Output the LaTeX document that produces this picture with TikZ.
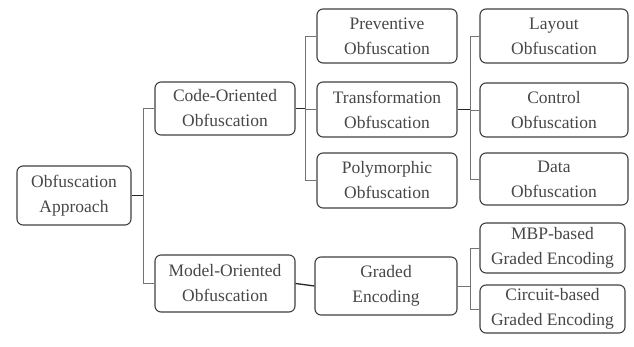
\documentclass[tikz,border=0pt]{standalone}
\usepackage{fontspec}
\setmainfont{Liberation Serif}
\begin{document}
\begin{tikzpicture}[x=1pt,y=-1pt,
  box/.style={draw=black!75, line width=1.1pt, rounded corners=6pt, fill=white,
    align=center, inner sep=0pt, text=black!72,
    font=\fontsize{17.5}{25}\selectfont},
  link/.style={draw=black!55, line width=0.8pt},
  thick link/.style={draw=black!85, line width=1.3pt}]
\useasboundingbox (0,0) rectangle (634,347);
% nodes
\node[box, minimum width=114pt, minimum height=59pt] (root) at (74,195.5) {Obfuscation\\Approach};
\node[box, minimum width=140pt, minimum height=53pt] (code) at (225,108.5) {Code-Oriented\\Obfuscation};
\node[box, minimum width=140pt, minimum height=57pt] (model) at (225,283.5) {Model-Oriented\\Obfuscation};
\node[box, minimum width=140pt, minimum height=54pt] (prev) at (387,36) {Preventive\\Obfuscation};
\node[box, minimum width=140pt, minimum height=55pt] (trans) at (387,109.5) {Transformation\\Obfuscation};
\node[box, minimum width=140pt, minimum height=55pt] (poly) at (387,180.5) {Polymorphic\\Obfuscation};
\node[box, minimum width=148pt, minimum height=54pt] (layout) at (554,36) {Layout\\Obfuscation};
\node[box, minimum width=148pt, minimum height=54pt] (control) at (554,110) {Control\\Obfuscation};
\node[box, minimum width=148pt, minimum height=52pt] (data) at (554,179) {Data\\Obfuscation};
\node[box, minimum width=142pt, minimum height=58pt] (graded) at (386,286) {Graded\\Encoding};
\node[box, minimum width=145pt, minimum height=50pt] (mbp) at (552.5,248) {MBP-based\\Graded Encoding};
\node[box, minimum width=145pt, minimum height=48pt] (circ) at (552.5,309) {Circuit-based\\Graded Encoding};
% trunk coordinates
\coordinate (t1) at (143,195.5);
\coordinate (t2) at (305,108.5);
\coordinate (t3) at (470,109.5);
\coordinate (t4) at (470,286);
% connectors
\draw[thick link] (root.east) -- (t1);
\draw[link] (t1) |- (code.west);
\draw[link] (t1) |- (model.west);
\draw[thick link] (code.east) -- (t2);
\draw[link] (t2) |- (prev.west);
\draw[link] (t2) |- (trans.west);
\draw[link] (t2) |- (poly.west);
\draw[thick link] (trans.east) -- (t3);
\draw[link] (t3) |- (layout.west);
\draw[link] (t3) |- (control.west);
\draw[link] (t3) |- (data.west);
\draw[thick link] (model.east) -- (graded.west);
\draw[link] (graded.east) -- (t4);
\draw[link] (t4) |- (mbp.west);
\draw[link] (t4) |- (circ.west);
\end{tikzpicture}
\end{document}
